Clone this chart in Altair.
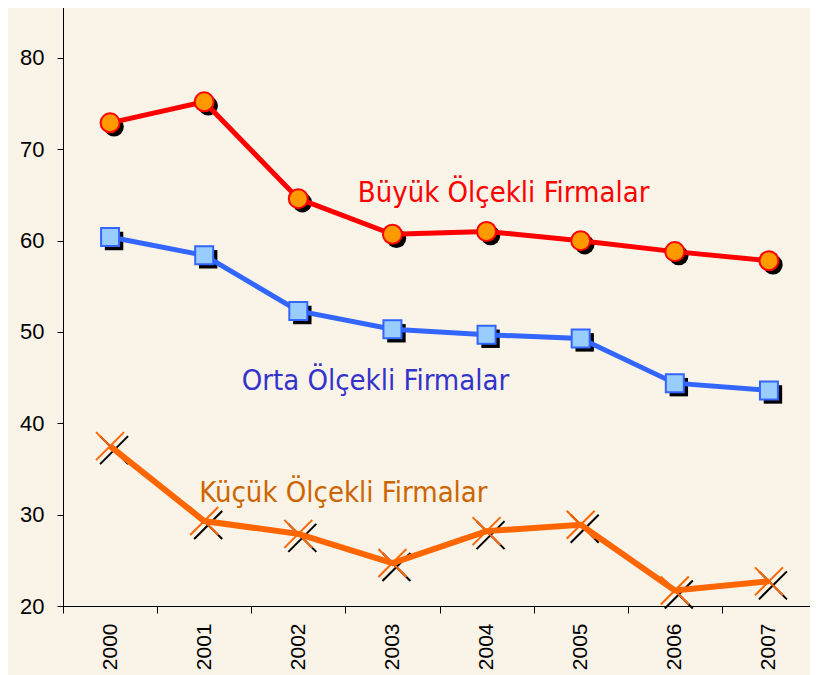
import altair as alt
import pandas as pd

years = ["2000", "2001", "2002", "2003", "2004", "2005", "2006", "2007"]
buyuk = [72.9, 75.2, 64.6, 60.7, 61.0, 60.0, 58.8, 57.8]
orta = [60.4, 58.4, 52.3, 50.3, 49.7, 49.3, 44.4, 43.6]
kucuk = [37.5, 29.3, 27.9, 24.7, 28.2, 28.9, 21.7, 22.7]
series_names = ["Büyük Ölçekli Firmalar", "Orta Ölçekli Firmalar", "Küçük Ölçekli Firmalar"]
y_ticks = [20, 30, 40, 50, 60, 70, 80]

label_years = ["2004", "2003", "2003"]
label_values = [64.23, 43.65, 31.42]

BG = "#F9F3E8"

df = pd.DataFrame({
    "year": years * 3,
    "value": buyuk + orta + kucuk,
    "series": [series_names[0]] * 8 + [series_names[1]] * 8 + [series_names[2]] * 8,
})

x = alt.X("year:O", sort=years,
          scale=alt.Scale(paddingInner=0, paddingOuter=0),
          axis=alt.Axis(title=None, labelAngle=-90, labelFont="Liberation Sans",
                        labelFontSize=21, labelColor="black", tickBand="extent",
                        tickSize=7, tickColor="black", domainColor="black",
                        labelPadding=10, grid=False))
y = alt.Y("value:Q",
          scale=alt.Scale(domain=[20, 86.35], nice=False, zero=False),
          axis=alt.Axis(title=None, values=y_ticks, labelFont="Liberation Sans",
                        labelFontSize=22, labelColor="black", tickSize=6,
                        tickColor="black", domainColor="black", labelPadding=13,
                        grid=False))

line_colors = ["#FF0000", "#3366FF", "#FF6600"]
base = alt.Chart(df)

xpath = "M-1,-1L1,1M-1,1L1,-1"

layers = []
# shadows
for name, shape, size in [(series_names[0], "circle", 380),
                          (series_names[1], "square", 340)]:
    layers.append(base.transform_filter(alt.datum.series == name).mark_point(
        shape=shape, size=size, filled=True, color="black", opacity=1,
        xOffset=4, yOffset=4).encode(x=x, y=y))
layers.append(base.transform_filter(alt.datum.series == series_names[2]).mark_point(
    shape=xpath, size=784, filled=False, stroke="black", strokeWidth=2, opacity=1,
    xOffset=4, yOffset=4).encode(x=x, y=y))

# lines
for name, col, sw in zip(series_names, line_colors, [5, 5, 6]):
    layers.append(base.transform_filter(alt.datum.series == name).mark_line(
        color=col, strokeWidth=sw).encode(x=x, y=y))

# markers
layers.append(base.transform_filter(alt.datum.series == series_names[0]).mark_point(
    shape="circle", size=361, filled=True, fill="#FF9900", stroke="#FF0000",
    strokeWidth=2, opacity=1).encode(x=x, y=y))
layers.append(base.transform_filter(alt.datum.series == series_names[1]).mark_point(
    shape="square", size=324, filled=True, fill="#99CCFF", stroke="#3366FF",
    strokeWidth=2, opacity=1).encode(x=x, y=y))
layers.append(base.transform_filter(alt.datum.series == series_names[2]).mark_point(
    shape=xpath, size=784, filled=False, stroke="#FF6600", strokeWidth=2,
    opacity=1).encode(x=x, y=y))

# labels
label_colors = ["#FF0000", "#3333CC", "#CC6600"]
label_dx = [17, -17, -49]
for i, name in enumerate(series_names):
    ldf = pd.DataFrame({"year": [label_years[i]], "value": [label_values[i]],
                        "text": [name]})
    layers.append(alt.Chart(ldf).mark_text(
        font="DejaVu Sans Condensed", fontSize=29, color=label_colors[i],
        align="center", baseline="alphabetic", dx=label_dx[i]).encode(
        x=x, y=y, text="text:N"))

chart = alt.layer(*layers).properties(
    width=753, height=606,
    background=BG,
    padding={"left": 55, "top": -8, "right": -6, "bottom": 69},
    autosize=alt.AutoSizeParams(type="none"),
).configure_view(fill=BG, stroke=None)

chart.save("out.html", embed_options={"renderer": "svg", "actions": False})
